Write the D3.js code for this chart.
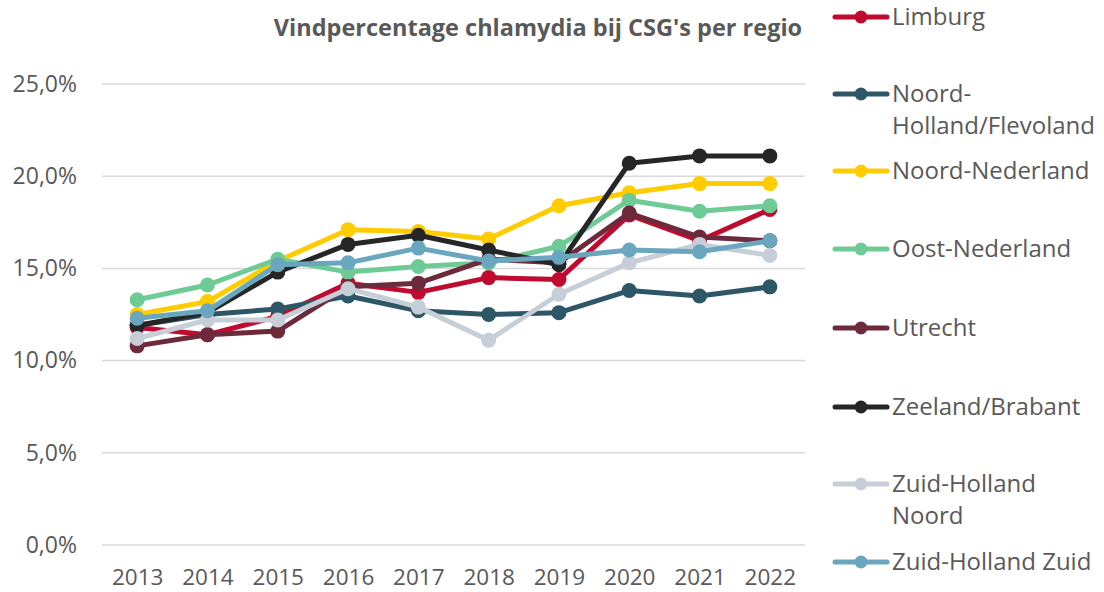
<!DOCTYPE html>
<html>
<head>
<meta charset="utf-8">
<script src="https://cdn.jsdelivr.net/npm/d3@7"></script>
<style>
  body { margin: 0; background: #fff; }
  svg { display: block; font-family: "Open Sans", sans-serif; }
</style>
</head>
<body>
<svg id="chart"></svg>
<script>
const years = ["2013", "2014", "2015", "2016", "2017", "2018", "2019", "2020", "2021", "2022"];
const yTicks = [0, 5, 10, 15, 20, 25];

const limburg      = [11.8, 11.4, 12.4, 14.2, 13.7, 14.5, 14.4, 17.9, 16.5, 18.2];
const noordHolland = [11.9, 12.5, 12.8, 13.5, 12.7, 12.5, 12.6, 13.8, 13.5, 14.0];
const noordNed     = [12.5, 13.2, 15.4, 17.1, 17.0, 16.6, 18.4, 19.1, 19.6, 19.6];
const oostNed      = [13.3, 14.1, 15.5, 14.8, 15.1, 15.3, 16.2, 18.7, 18.1, 18.4];
const utrecht      = [10.8, 11.4, 11.6, 14.0, 14.2, 15.5, 15.3, 18.0, 16.7, 16.5];
const zeeland      = [11.9, 12.6, 14.8, 16.3, 16.8, 16.0, 15.2, 20.7, 21.1, 21.1];
const zhNoord      = [11.2, 12.2, 12.2, 13.9, 12.9, 11.1, 13.6, 15.3, 16.3, 15.7];
const zhZuid       = [12.3, 12.7, 15.2, 15.3, 16.1, 15.4, 15.6, 16.0, 15.9, 16.5];

const seriesNames = ["Limburg", "Noord-Holland/Flevoland", "Noord-Nederland", "Oost-Nederland",
  "Utrecht", "Zeeland/Brabant", "Zuid-Holland Noord", "Zuid-Holland Zuid"];
const seriesValues = [limburg, noordHolland, noordNed, oostNed, utrecht, zeeland, zhNoord, zhZuid];
const colors = ["#c00a30", "#2d5766", "#ffcc00", "#6fcb95", "#6e2a3d", "#262626", "#c6ced8", "#6aa7bf"];
// legend labels split over lines like in the original
const legendLines = [["Limburg"], ["Noord-", "Holland/Flevoland"], ["Noord-Nederland"], ["Oost-Nederland"],
  ["Utrecht"], ["Zeeland/Brabant"], ["Zuid-Holland", "Noord"], ["Zuid-Holland Zuid"]];
const legendY = [17, 94, 171, 249, 328, 407, 484, 562];

const width = 1104, height = 592;
const plotLeft = 102, plotRight = 805, plotTop = 84, plotBottom = 545;
const textColor = "#595959";

const svg = d3.select("#chart").attr("width", width).attr("height", height);

const x = d3.scalePoint().domain(years).range([plotLeft, plotRight]).padding(0.5);
const y = d3.scaleLinear().domain([0, 25]).range([plotBottom, plotTop]);

// grid
svg.append("g")
  .selectAll("line")
  .data(yTicks)
  .join("line")
    .attr("x1", plotLeft)
    .attr("x2", plotRight)
    .attr("y1", d => y(d))
    .attr("y2", d => y(d))
    .attr("stroke", "#d9d9d9")
    .attr("stroke-width", 1.5);

const yAxis = d3.axisLeft(y)
  .tickValues(yTicks)
  .tickSize(0)
  .tickPadding(25)
  .tickFormat(d => d3.format(".1f")(d).replace(".", ",") + "%");

svg.append("g")
  .attr("transform", `translate(${plotLeft},0)`)
  .call(yAxis)
  .call(g => g.select(".domain").remove())
  .selectAll("text")
    .attr("fill", textColor)
    .style("font-size", "23px")
    .style("font-family", "Open Sans");

const xAxis = d3.axisBottom(x).tickSize(0).tickPadding(24);
svg.append("g")
  .attr("transform", `translate(0,${plotBottom})`)
  .call(xAxis)
  .call(g => g.select(".domain").remove())
  .selectAll("text")
    .attr("fill", textColor)
    .style("font-size", "22.5px")
    .style("font-family", "Open Sans");

// title
svg.append("text")
  .attr("x", 538)
  .attr("y", 36)
  .attr("text-anchor", "middle")
  .attr("fill", textColor)
  .style("font-size", "23.5px")
  .style("font-weight", "bold")
  .text("Vindpercentage chlamydia bij CSG's per regio");

const line = d3.line()
  .x((d, i) => x(years[i]))
  .y(d => y(d));

seriesValues.forEach((vals, k) => {
  const g = svg.append("g");
  g.append("path")
    .datum(vals)
    .attr("d", line)
    .attr("fill", "none")
    .attr("stroke", colors[k])
    .attr("stroke-width", 5)
    .attr("stroke-linejoin", "round");
  g.selectAll("circle")
    .data(vals)
    .join("circle")
      .attr("cx", (d, i) => x(years[i]))
      .attr("cy", d => y(d))
      .attr("r", 7.5)
      .attr("fill", colors[k]);
});

// legend
const legend = svg.append("g");
seriesNames.forEach((name, k) => {
  const ly = legendY[k];
  legend.append("line")
    .attr("x1", 835).attr("x2", 887)
    .attr("y1", ly).attr("y2", ly)
    .attr("stroke", colors[k])
    .attr("stroke-width", 5)
    .attr("stroke-linecap", "round");
  legend.append("circle")
    .attr("cx", 861).attr("cy", ly).attr("r", 6.5)
    .attr("fill", colors[k]);
  const t = legend.append("text")
    .attr("x", 892)
    .attr("y", ly)
    .attr("fill", textColor)
    .style("font-size", "24px");
  legendLines[k].forEach((s, j) => {
    t.append("tspan")
      .attr("x", 892)
      .attr("dy", j === 0 ? "0.35em" : "1.33em")
      .text(s);
  });
});
</script>
</body>
</html>
